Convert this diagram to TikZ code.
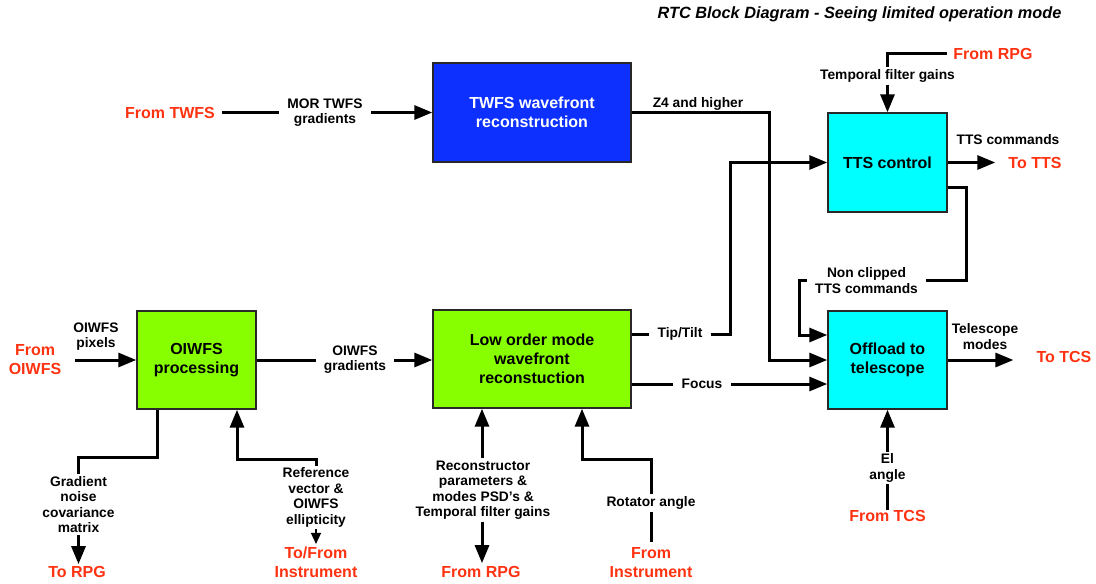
\documentclass[tikz,border=0pt]{standalone}
\usepackage{fontspec}
\setmainfont{Liberation Sans}
\usetikzlibrary{arrows.meta}
\definecolor{redtxt}{RGB}{255,51,17}
\definecolor{limebox}{RGB}{136,255,0}
\definecolor{cyanbox}{RGB}{0,255,255}
\definecolor{bluebox}{RGB}{13,48,255}
\definecolor{edge}{RGB}{40,40,40}

\begin{document}
\begin{tikzpicture}[x=1pt,y=-1pt,
  box/.style={draw=edge, line width=1.4pt, align=center,
    font=\fontsize{16}{19}\selectfont\bfseries, inner sep=0pt},
  lbl/.style={align=center, font=\fontsize{13.8}{15.5}\selectfont\bfseries,
    inner xsep=8pt, inner ysep=2pt},
  ext/.style={align=center, text=redtxt,
    font=\fontsize{16}{19}\selectfont\bfseries, inner sep=0pt},
  wire/.style={line width=3pt},
  arr/.style={wire, -{Triangle[length=18pt,width=14pt]}},
  tinyarr/.style={line width=1.5pt, -{Triangle[length=11pt,width=10pt]}}]

\fill[white] (0,0) rectangle (1096,584);
\useasboundingbox (0,0) rectangle (1096,584);

% title
\node[font=\fontsize{16.3}{19}\selectfont\bfseries\itshape] (title) at (859.5,14)
  {RTC Block Diagram - Seeing limited operation mode};

% processing blocks
\node[box, fill=bluebox, text=white, minimum width=198pt, minimum height=99pt]
  (twfs) at (532,112.5) {TWFS wavefront\\reconstruction};
\node[box, fill=cyanbox, minimum width=119pt, minimum height=99pt]
  (tts) at (887.5,162.5) {TTS control};
\node[box, fill=cyanbox, minimum width=119pt, minimum height=98pt]
  (offload) at (887.5,360) {Offload to\\telescope};
\node[box, fill=limebox, minimum width=198pt, minimum height=98pt]
  (lowbox) at (532,359) {Low order mode\\wavefront\\reconstuction};
\node[box, fill=limebox, minimum width=119pt, minimum height=98pt]
  (oiwfs) at (196.5,360) {OIWFS\\processing};

% external sources and sinks
\node[ext] (fromtwfs) at (170,112.5) {From TWFS};
\node[ext] (fromrpgA) at (993,53.5) {From RPG};
\node[ext] (totts) at (1035,162.5) {To TTS};
\node[ext] (totcs) at (1064,357) {To TCS};
\node[ext] (fromtcs) at (887.5,516) {From TCS};
\node[ext] (fromrpgB) at (481,572) {From RPG};
\node[ext] (frominst) at (651,563) {From\\Instrument};
\node[ext] (fromoiwfs) at (35,360) {From\\OIWFS};
\node[ext] (torpg) at (77,572) {To RPG};
\node[ext] (tofrom) at (316,562.5) {To/From\\Instrument};

% signal labels
\node[lbl] (mortwfs) at (325,112.5) {MOR TWFS\\gradients};
\node[lbl, inner sep=0pt] (z4) at (698,104) {Z4 and higher};
\node[lbl] (tfg) at (887.5,76) {Temporal filter gains};
\node[lbl] (ttscmd) at (1008,140) {TTS commands};
\node[lbl] (nonclip) at (866.5,280.5) {Non clipped\\TTS commands};
\node[lbl] (telmodes) at (985,336.5) {Telescope\\modes};
\node[lbl] (elangle) at (887.5,468) {El\\angle};
\node[lbl] (tiptilt) at (680,334) {Tip/Tilt};
\node[lbl] (focus) at (702,384) {Focus};
\node[lbl] (recon) at (483,490)
  {Reconstructor\\parameters \&\\modes PSD's \&\\Temporal filter gains};
\node[lbl] (rotator) at (651,503) {Rotator angle};
\node[lbl] (pixels) at (96,336.5) {OIWFS\\pixels};
\node[lbl] (oigrad) at (355,359.5) {OIWFS\\gradients};
\node[lbl] (gradnoise) at (78.5,504.5) {Gradient\\noise\\covariance\\matrix};
\node[lbl] (refvec) at (316,497.5) {Reference\\vector \&\\OIWFS\\ellipticity};

% bend points of the routed wires
\coordinate (z4turn) at (769,112.5);
\coordinate (ttturn) at (730.5,334);
\coordinate (ncright) at (966,187);
\coordinate (ncleft) at (799,335);
\coordinate (lowinA) at ([xshift=-50pt]lowbox.south);
\coordinate (lowinB) at ([xshift=50pt]lowbox.south);
\coordinate (rotbend) at (651,459);
\coordinate (gnA) at ([xshift=-39.5pt]oiwfs.south);
\coordinate (gnbend) at (78.5,457.5);
\coordinate (rvA) at ([xshift=40.5pt]oiwfs.south);
\coordinate (rvbend) at (316,459.5);

% TWFS path
\draw[wire, shorten <=7pt] (fromtwfs.east) -- (mortwfs.west);
\draw[arr] (mortwfs.east) -- (twfs.west |- mortwfs.east);
\draw[arr] (twfs.east) -- (z4turn) |- (offload.west);

% TTS control
\draw[wire, shorten <=6pt] (fromrpgA.west) -| (tfg.north);
\draw[arr] (tfg.south) -- (tts.north);
\draw[arr, shorten >=13pt] (tts.east) -- (totts.west |- tts.east);
\draw[wire] (tts.east |- ncright) -- (ncright) |- (nonclip.east);
\draw[arr] (nonclip.west) -| (ncleft) -- (offload.west |- ncleft);

% offload to telescope
\draw[arr, shorten >=23pt] (offload.east) -- (totcs.west |- offload.east);
\draw[arr] (elangle.north) -- (offload.south);
\draw[wire] (fromtcs.north) -- (elangle.south);

% low order reconstruction
\draw[wire] (lowbox.east |- tiptilt) -- (tiptilt.west);
\draw[arr] (tiptilt.east) -- (ttturn) |- (tts.west);
\draw[wire] (lowbox.east |- focus) -- (focus.west);
\draw[arr] (focus.east) -- (offload.west |- focus);
\draw[arr] (recon.north -| lowinA) -- (lowinA);
\draw[arr, shorten >=3pt] (recon.south -| lowinA) -- (fromrpgB.north -| lowinA);
\draw[wire, shorten <=6pt] (frominst.north) -- (rotator.south);
\draw[arr] (rotator.north) -- (rotbend) -| (lowinB);

% OIWFS processing
\draw[arr, shorten <=14pt] (fromoiwfs.east |- oiwfs.west) -- (oiwfs.west);
\draw[wire] (oiwfs.east) -- (oigrad.west |- oiwfs.east);
\draw[arr] (oigrad.east |- oiwfs.east) -- (lowbox.west |- oiwfs.east);
\draw[wire] (gnA) |- (gnbend) -- (gradnoise.north);
\draw[arr, shorten >=2pt] (gradnoise.south) -- (torpg.north -| gradnoise.south);
\draw[arr] (refvec.north) -- (rvbend) -| (rvA);
\draw[tinyarr, shorten >=3pt] (refvec.south) -- (tofrom.north);
\end{tikzpicture}
\end{document}
